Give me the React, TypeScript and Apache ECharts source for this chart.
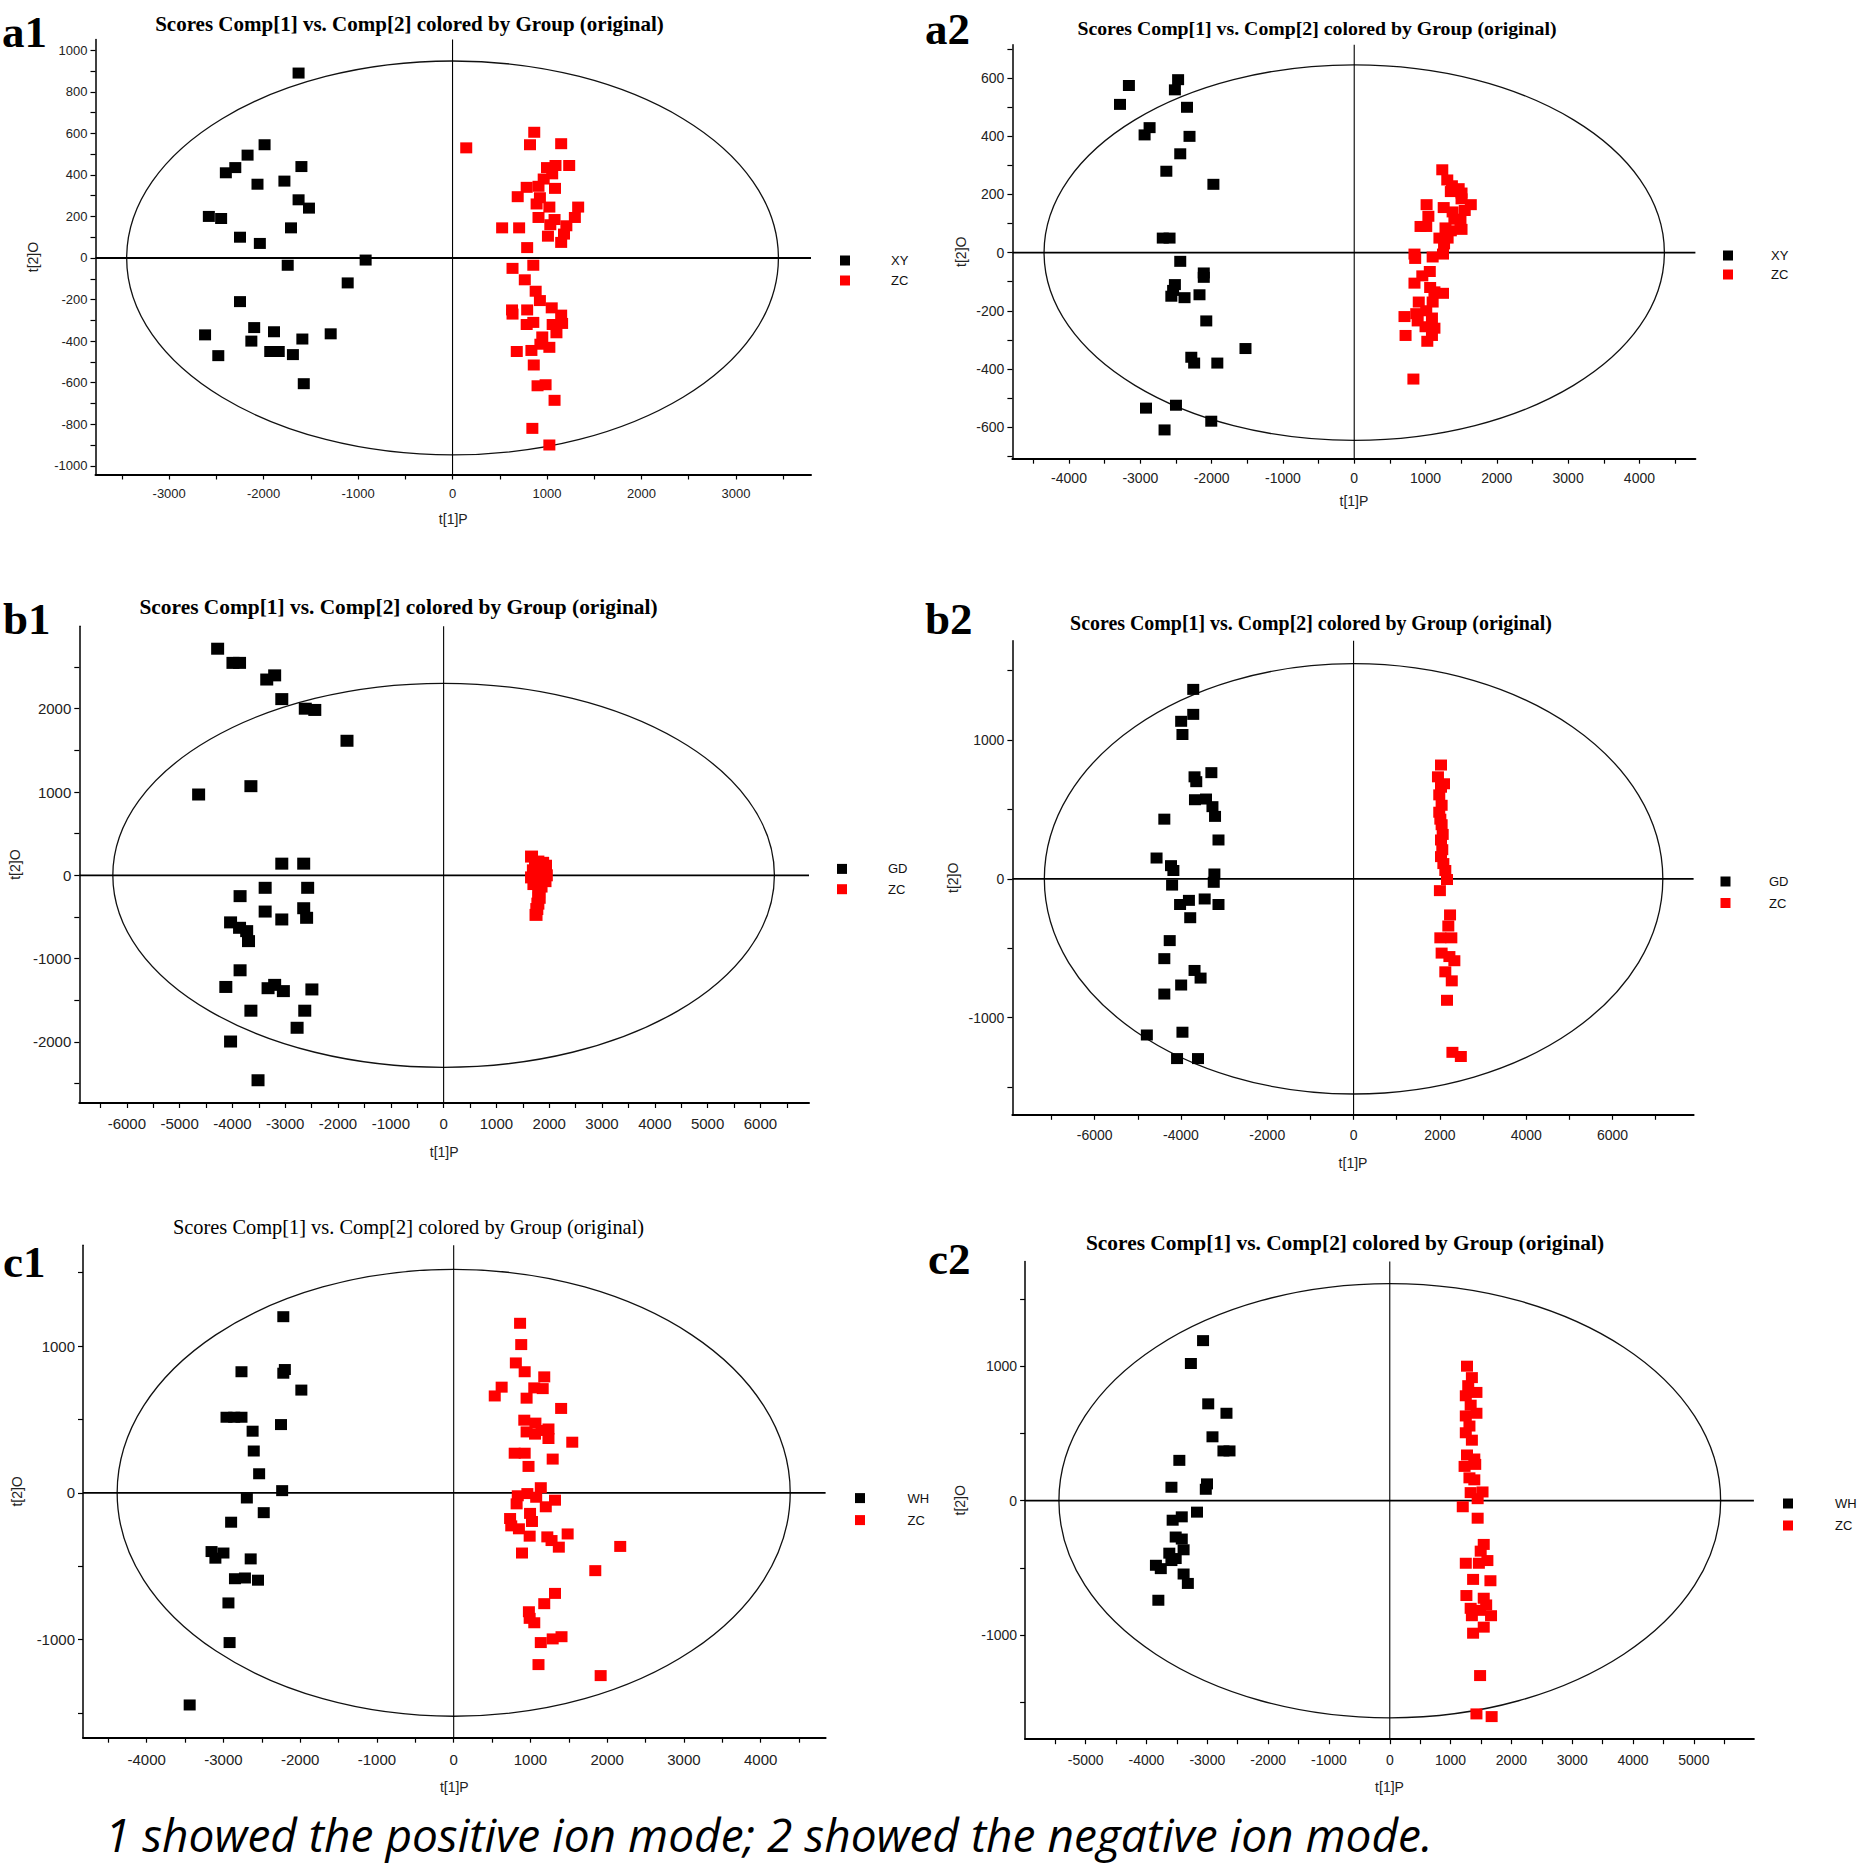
import React, { useEffect, useRef } from "react";
import * as echarts from "echarts";

// ---------------- DATA ----------------
const A1_XY: number[][] = [
  [-1630, 890], [-1990, 545], [-2170, 495], [-2300, 435], [-2400, 410], [-1600, 440], [-2065, 355], [-1780, 370],
  [-1630, 280], [-1520, 240], [-2580, 200], [-2450, 190], [-1710, 145], [-2250, 100], [-2040, 70], [-920, -10],
  [-1745, -35], [-1110, -120], [-2250, -210], [-2100, -335], [-1890, -355], [-2620, -370], [-1290, -365],
  [-1590, -390], [-2130, -400], [-1930, -450], [-1840, -450], [-2480, -470], [-1690, -465], [-1575, -605],
];
const A1_ZC: number[][] = [
  [865, 605], [145, 530], [820, 545], [1150, 550], [1235, 445], [1090, 445], [1000, 435], [1055, 405], [965, 380],
  [785, 340], [910, 345], [1085, 335], [690, 295], [925, 290], [1330, 245], [890, 260], [1025, 245], [1295, 195],
  [910, 195], [1080, 185], [1035, 160], [1205, 155], [525, 145], [705, 145], [1010, 105], [1180, 115], [1150, 75],
  [790, 50], [855, -35], [635, -50], [765, -105], [880, -160], [925, -205], [1050, -240], [630, -250], [790, -250],
  [635, -270], [1150, -275], [785, -320], [855, -310], [1160, -315], [1060, -320], [1100, -360], [950, -380],
  [930, -415], [1025, -430], [680, -450], [835, -445], [860, -515], [900, -615], [985, -610], [1080, -685],
  [845, -820], [1025, -900],
];
const A2_XY: number[][] = [
  [-2470, 595], [-3160, 575], [-2515, 560], [-3285, 510], [-2345, 500], [-2870, 430], [-2940, 405], [-2310, 400],
  [-2440, 340], [-2635, 280], [-1975, 235], [-2685, 50], [-2590, 50], [-2440, -30], [-2110, -70], [-2110, -85],
  [-2515, -110], [-2540, -130], [-2565, -150], [-2380, -155], [-2170, -145], [-2075, -235], [-1525, -330],
  [-2285, -360], [-2245, -380], [-1920, -380], [-2920, -535], [-2500, -525], [-2005, -580], [-2660, -610],
];
const A2_ZC: number[][] = [
  [1235, 285], [1305, 250], [1370, 230], [1465, 220], [1505, 205], [1355, 210], [1635, 165], [1015, 165],
  [1255, 155], [1505, 185], [1380, 140], [1550, 145], [1040, 125], [1405, 115], [1490, 110], [930, 90], [1010, 90],
  [1280, 85], [1505, 80], [1355, 75], [1195, 50], [1310, 50], [1260, 30], [1245, -5], [845, -5], [855, -20],
  [1100, -15], [1060, -65], [955, -80], [845, -105], [1065, -120], [1245, -140], [1125, -135], [905, -170],
  [1100, -170], [1010, -200], [870, -210], [705, -220], [1090, -225], [890, -235], [1000, -255], [1125, -260],
  [1090, -285], [720, -285], [1025, -305], [830, -435],
];
const B1_GD: number[][] = [
  [-4280, 2720], [-3990, 2550], [-3865, 2550], [-3350, 2350], [-3200, 2400], [-3065, 2115], [-2620, 2000],
  [-2440, 1985], [-1830, 1615], [-4640, 970], [-3650, 1070], [-3065, 140], [-2650, 140], [-3380, -150],
  [-2575, -150], [-3855, -250], [-3380, -435], [-2650, -395], [-3065, -530], [-2595, -510], [-4035, -565],
  [-3865, -630], [-3730, -670], [-3695, -790], [-3855, -1140], [-4125, -1340], [-3325, -1355], [-3200, -1315],
  [-3035, -1390], [-2495, -1370], [-3650, -1625], [-2630, -1625], [-2775, -1830], [-4035, -1995], [-3515, -2460],
];
const B1_ZC: number[][] = [
  [1665, 225], [1785, 165], [1875, 150], [1740, 90], [1910, 70], [1820, 30], [1945, 0], [1765, -45], [1920, -70],
  [1710, -105], [1845, -135], [1800, -205], [1810, -270], [1785, -340], [1765, -405], [1750, -475], [1930, 115],
  [1665, -25], [1870, 40], [1700, 60],
];
const B2_GD: number[][] = [
  [-3715, 1365], [-3715, 1185], [-3995, 1135], [-3965, 1040], [-3295, 765], [-3685, 735], [-3645, 700],
  [-3675, 570], [-3420, 575], [-3270, 520], [-3210, 450], [-4385, 430], [-3130, 280], [-4565, 150], [-4230, 95],
  [-4175, 60], [-3225, 35], [-3240, -25], [-4205, -45], [-4020, -185], [-3815, -155], [-3450, -145], [-3130, -185],
  [-3785, -280], [-4260, -445], [-4385, -575], [-3685, -660], [-3545, -715], [-3995, -765], [-4385, -830],
  [-3965, -1105], [-4790, -1125], [-4090, -1295], [-3605, -1295],
];
const B2_ZC: number[][] = [
  [2025, 820], [1955, 735], [2095, 685], [2025, 660], [1985, 605], [2040, 530], [1985, 480], [2010, 430],
  [2040, 390], [2065, 320], [2025, 280], [2055, 210], [2025, 160], [2080, 110], [2125, 60], [2165, -5], [2000, -85],
  [2235, -260], [2195, -340], [2010, -425], [2265, -425], [2040, -535], [2220, -560], [2335, -590], [2125, -670],
  [2275, -735], [2165, -875], [2290, -1250], [2485, -1280],
];
const C1_WH: number[][] = [
  [-2220, 1200], [-2200, 840], [-2220, 815], [-2765, 825], [-1985, 700], [-2960, 515], [-2860, 515], [-2765, 515],
  [-2250, 465], [-2620, 420], [-2605, 285], [-2535, 130], [-2235, 15], [-2695, -35], [-2475, -135], [-2900, -200],
  [-3155, -400], [-3105, -445], [-3000, -410], [-2645, -450], [-2850, -585], [-2720, -580], [-2550, -595],
  [-2935, -750], [-2920, -1020], [-3440, -1445],
];
const C1_ZC: number[][] = [
  [865, 1155], [880, 1010], [810, 885], [925, 825], [1180, 790], [625, 720], [1050, 715], [1160, 710], [535, 660],
  [950, 645], [1400, 575], [920, 495], [1065, 475], [1235, 435], [950, 415], [1060, 400], [1145, 425], [1235, 370],
  [1545, 345], [795, 270], [925, 270], [1290, 230], [975, 180], [1135, 35], [960, -5], [835, -20], [1075, -30],
  [1320, -50], [820, -75], [1200, -95], [995, -140], [735, -175], [1020, -195], [750, -225], [850, -245],
  [990, -295], [1485, -280], [1220, -300], [1275, -325], [1370, -370], [2170, -365], [890, -410], [1845, -530],
  [1320, -685], [1180, -755], [980, -810], [990, -855], [1050, -885], [1405, -980], [1290, -995], [1135, -1020],
  [1105, -1170], [1915, -1245],
];
const C2_WH: number[][] = [
  [-3070, 1190], [-3270, 1020], [-2985, 720], [-2685, 650], [-2915, 475], [-2735, 370], [-2635, 370],
  [-3460, 300], [-3005, 125], [-3025, 85], [-3590, 100], [-3170, -85], [-3420, -120], [-3570, -145], [-3520, -270],
  [-3420, -285], [-3390, -365], [-3625, -390], [-3520, -430], [-3590, -445], [-3845, -480], [-3765, -505],
  [-3390, -545], [-3320, -615], [-3805, -740],
];
const C2_ZC: number[][] = [
  [1270, 1000], [1350, 915], [1290, 855], [1425, 805], [1250, 780], [1330, 710], [1425, 650], [1250, 630],
  [1310, 555], [1250, 505], [1350, 450], [1270, 340], [1390, 310], [1230, 255], [1405, 270], [1310, 170],
  [1390, 155], [1330, 60], [1525, 65], [1445, 15], [1200, -45], [1445, -130], [1545, -325], [1495, -375],
  [1605, -445], [1250, -465], [1465, -465], [1370, -585], [1655, -595], [1260, -705], [1545, -725], [1585, -775],
  [1330, -800], [1485, -815], [1350, -855], [1665, -855], [1545, -940], [1370, -985], [1485, -1300],
  [1425, -1585], [1675, -1605],
];

const PANEL_LETTERS = ["a1", "a2", "b1", "b2", "c1", "c2"];
const GROUP_NAMES = [["XY", "ZC"], ["XY", "ZC"], ["GD", "ZC"], ["GD", "ZC"], ["WH", "ZC"], ["WH", "ZC"]];
const GROUP_DATA = [[A1_XY, A1_ZC], [A2_XY, A2_ZC], [B1_GD, B1_ZC], [B2_GD, B2_ZC], [C1_WH, C1_ZC], [C2_WH, C2_ZC]];
// Hotelling T2 ellipse half-axes [t1, t2]
const ELLIPSE_RADII = [[3450, 948], [4350, 646], [6265, 2305], [7165, 1550], [4385, 1522], [5440, 1614]];
const TITLE_TEXT = "Scores Comp[1] vs. Comp[2] colored by Group (original)";
const X_NAME = "t[1]P";
const Y_NAME = "t[2]O";
const CAPTION = "1 showed the positive ion mode; 2 showed the negative ion mode.";

// axis extents [xMin, xMax, yMin, yMax]
const AXIS_EXTENTS = [
  [-3780, 3795, -1042, 1051],
  [-4794, 4785, -709, 715],
  [-6900, 6920, -2733, 2989],
  [-7905, 7878, -1700, 1715],
  [-4830, 4846, -1668, 1687],
  [-5996, 5987, -1773, 1779],
];
// tick steps & label values
const X_TICK_STEP = [500, 500, 500, 1000, 500, 500];
const X_TICK_RANGE = [[-3500, 3500], [-4500, 4500], [-6500, 6500], [-7000, 7000], [-4500, 4500], [-5500, 5500]];
const Y_TICK_STEP = [100, 100, 500, 500, 500, 500];
const Y_TICK_RANGE = [[-1000, 1000], [-700, 700], [-2500, 2500], [-1500, 1500], [-1500, 1500], [-1500, 1500]];
const X_LABELS = [
  [-3000, -2000, -1000, 0, 1000, 2000, 3000],
  [-4000, -3000, -2000, -1000, 0, 1000, 2000, 3000, 4000],
  [-6000, -5000, -4000, -3000, -2000, -1000, 0, 1000, 2000, 3000, 4000, 5000, 6000],
  [-6000, -4000, -2000, 0, 2000, 4000, 6000],
  [-4000, -3000, -2000, -1000, 0, 1000, 2000, 3000, 4000],
  [-5000, -4000, -3000, -2000, -1000, 0, 1000, 2000, 3000, 4000, 5000],
];
const Y_LABELS = [
  [-1000, -800, -600, -400, -200, 0, 200, 400, 600, 800, 1000],
  [-600, -400, -200, 0, 200, 400, 600],
  [-2000, -1000, 0, 1000, 2000],
  [-1000, 0, 1000],
  [-1000, 0, 1000],
  [-1000, 0, 1000],
];

// ---------------- LAYOUT (pixels) ----------------
const GRIDS = [
  { left: 95.5, top: 39.6, width: 715.5, height: 434.9 },
  { left: 1012.4, top: 44.8, width: 683, height: 413.9 },
  { left: 79.3, top: 626.3, width: 729.7, height: 476.7 },
  { left: 1012.4, top: 640.8, width: 681.2, height: 474 },
  { left: 83, top: 1245.2, width: 742.6, height: 492.5 },
  { left: 1025.1, top: 1261.4, width: 728.8, height: 477.8 },
];
const TITLE_POS = [
  { x: 409.5, y: 23.5, size: 21, bold: true },
  { x: 1317, y: 27.5, size: 19.8, bold: true },
  { x: 398.5, y: 607, size: 21.4, bold: true },
  { x: 1311, y: 622.5, size: 19.9, bold: true },
  { x: 408.5, y: 1226.5, size: 20.4, bold: false },
  { x: 1345, y: 1242.5, size: 21.4, bold: true },
];
const LETTER_POS = [[2, 32], [925, 29], [3, 619], [925, 618.5], [3, 1261.5], [928, 1258.5]];
const LEGEND_POS = [
  { left: 840, top: 254, step: 17, gap: 41 },
  { left: 1723, top: 249, step: 16, gap: 38 },
  { left: 837, top: 862.4, step: 17.3, gap: 41 },
  { left: 1720.5, top: 875, step: 18.5, gap: 38.5 },
  { left: 855, top: 1491.6, step: 19, gap: 42.5 },
  { left: 1783, top: 1497, step: 19, gap: 42 },
];
const TICK_FONT = [13, 14, 15, 14, 15, 14];
const X_NAME_GAP = [37.5, 35, 42, 41, 42, 41];
const Y_NAME_GAP = [56, 44, 57, 52, 59, 58];
const X_LABEL_MARGIN = [12, 12, 13, 13, 14, 14];
const SYMBOL_SIZE = [[12, 11], [12, 11], [13, 12], [12, 11], [12, 11], [12, 11]];
const COLORS = ["#000000", "#ff0000"];

function stepValues(a: number, b: number, step: number) {
  const out: number[] = [];
  for (let v = a; v <= b + 1e-9; v += step) out.push(v);
  return out;
}

export default function App() {
  const ref = useRef<HTMLDivElement>(null);

  useEffect(() => {
    if (!ref.current) return;
    const chart = echarts.init(ref.current, null, { renderer: "svg" });

    const sans = "Liberation Sans";
    const serif = "Liberation Serif";

    const grid: any[] = [];
    const xAxis: any[] = [];
    const yAxis: any[] = [];
    const series: any[] = [];
    const title: any[] = [];
    const legend: any[] = [];
    const graphic: any[] = [];

    PANEL_LETTERS.forEach((letter, i) => {
      const [xMin, xMax, yMin, yMax] = AXIS_EXTENTS[i];
      grid.push({ ...GRIDS[i], containLabel: false });

      const labelStyle = { fontFamily: sans, fontSize: TICK_FONT[i], color: "#222" };
      xAxis.push({
        gridIndex: i,
        type: "value",
        min: xMin,
        max: xMax,
        axisLine: { show: true, onZero: false, lineStyle: { color: "#000", width: 2 } },
        axisTick: {
          show: true,
          length: 5,
          customValues: stepValues(X_TICK_RANGE[i][0], X_TICK_RANGE[i][1], X_TICK_STEP[i]),
          lineStyle: { color: "#000", width: 1.2 },
        },
        axisLabel: {
          ...labelStyle,
          customValues: X_LABELS[i],
          margin: X_LABEL_MARGIN[i],
          formatter: (v: number) => String(v),
        },
        splitLine: { show: false },
        name: X_NAME,
        nameLocation: "middle",
        nameGap: X_NAME_GAP[i],
        nameTextStyle: { fontFamily: sans, fontSize: 14, color: "#222" },
      });
      yAxis.push({
        gridIndex: i,
        type: "value",
        min: yMin,
        max: yMax,
        axisLine: { show: true, onZero: false, lineStyle: { color: "#000", width: 1.5 } },
        axisTick: {
          show: true,
          length: 5,
          customValues: stepValues(Y_TICK_RANGE[i][0], Y_TICK_RANGE[i][1], Y_TICK_STEP[i]),
          lineStyle: { color: "#000", width: 1.2 },
        },
        axisLabel: {
          ...labelStyle,
          customValues: Y_LABELS[i],
          margin: 8,
          formatter: (v: number) => String(v),
        },
        splitLine: { show: false },
        name: Y_NAME,
        nameLocation: "middle",
        nameGap: Y_NAME_GAP[i],
        nameTextStyle: { fontFamily: sans, fontSize: 14, color: "#222" },
      });

      // ellipse + crosshair, through the axis scales
      series.push({
        type: "custom",
        xAxisIndex: i,
        yAxisIndex: i,
        silent: true,
        clip: false,
        z: 1,
        data: [[0, 0, ELLIPSE_RADII[i][0], ELLIPSE_RADII[i][1]]],
        renderItem: (_params: any, api: any) => {
          const c = api.coord([api.value(0), api.value(1)]);
          const s = api.size([api.value(2), api.value(3)]);
          const top = api.coord([0, yMax]);
          const bot = api.coord([0, yMin]);
          const l = api.coord([xMin, 0]);
          const r = api.coord([xMax, 0]);
          return {
            type: "group",
            children: [
              {
                type: "ellipse",
                shape: { cx: c[0], cy: c[1], rx: s[0], ry: s[1] },
                style: { fill: "none", stroke: "#111", lineWidth: 1.3 },
              },
              {
                type: "line",
                shape: { x1: top[0], y1: top[1], x2: bot[0], y2: bot[1] },
                style: { stroke: "#000", lineWidth: 1.1 },
              },
              {
                type: "line",
                shape: { x1: l[0], y1: l[1], x2: r[0], y2: r[1] },
                style: { stroke: "#000", lineWidth: 1.8 },
              },
            ],
          };
        },
      });

      GROUP_NAMES[i].forEach((name, g) => {
        series.push({
          type: "scatter",
          name,
          xAxisIndex: i,
          yAxisIndex: i,
          symbol: "rect",
          symbolSize: SYMBOL_SIZE[i],
          itemStyle: { color: COLORS[g], opacity: 1 },
          emphasis: { disabled: true },
          z: 3,
          data: GROUP_DATA[i][g],
        });
      });

      const tp = TITLE_POS[i];
      title.push({
        text: TITLE_TEXT,
        left: tp.x,
        top: tp.y,
        padding: 0,
        textAlign: "center",
        textVerticalAlign: "middle",
        textStyle: {
          fontFamily: serif,
          fontWeight: tp.bold ? "bold" : "normal",
          fontSize: tp.size,
          color: "#000",
        },
      });

      const lp = LEGEND_POS[i];
      legend.push({
        orient: "vertical",
        left: lp.left,
        top: lp.top,
        padding: 0,
        itemWidth: 10,
        itemHeight: 10,
        itemGap: lp.step - 10,
        icon: "rect",
        selectedMode: false,
        data: GROUP_NAMES[i],
        textStyle: {
          fontFamily: sans,
          fontSize: 13,
          color: "#111",
          lineHeight: 10,
          padding: [0, 0, 0, lp.gap - 5],
        },
      });

      graphic.push({
        type: "text",
        x: LETTER_POS[i][0],
        y: LETTER_POS[i][1],
        style: {
          text: letter,
          font: `bold 45px "${serif}"`,
          fill: "#000",
          verticalAlign: "middle",
          align: "left",
        },
      });
    });

    graphic.push({
      type: "text",
      x: 105,
      y: 1834,
      style: {
        text: CAPTION,
        font: 'italic 46px "Open Sans"',
        fill: "#000",
        verticalAlign: "middle",
        align: "left",
      },
    });

    chart.setOption({
      animation: false,
      backgroundColor: "#ffffff",
      title,
      legend,
      grid,
      xAxis,
      yAxis,
      series,
      graphic,
    });

    return () => chart.dispose();
  }, []);

  return (
    <div
      ref={ref}
      style={{ position: "absolute", left: 0, top: 0, width: 1861, height: 1866, background: "#fff" }}
    />
  );
}
